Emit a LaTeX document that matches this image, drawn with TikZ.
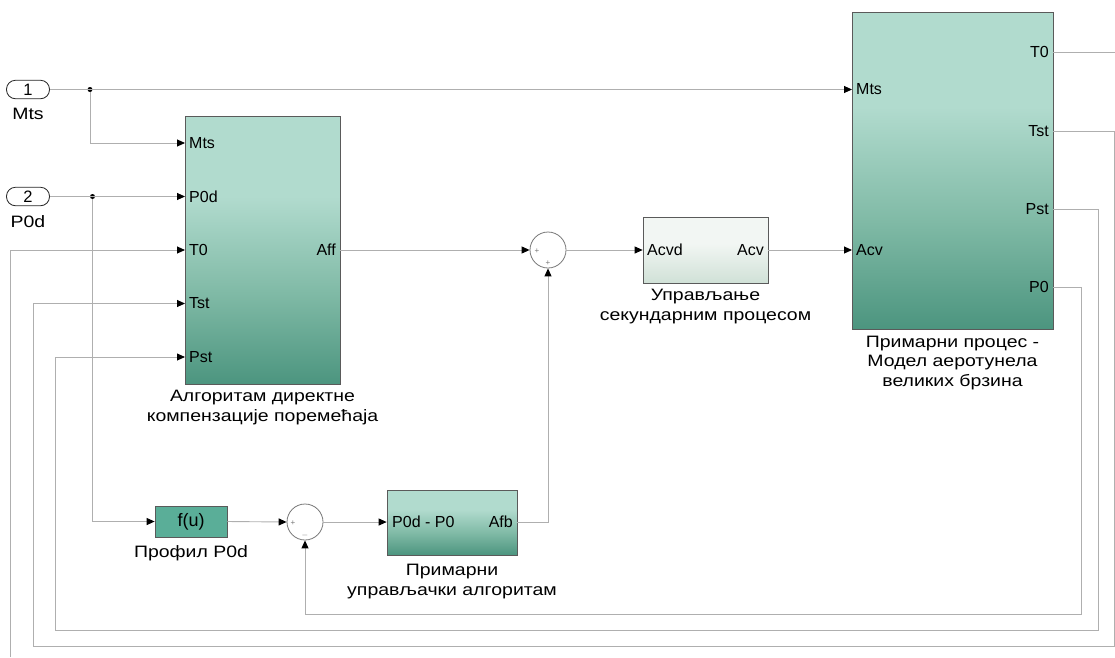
\documentclass[tikz,border=0pt]{standalone}
\usepackage{fontspec}
\setmainfont{Liberation Sans}
\newfontfamily\namefont[FakeStretch=1.18]{Liberation Sans}
\usetikzlibrary{arrows.meta,calc}

\definecolor{tealL}{RGB}{177,219,206}
\definecolor{tealM}{RGB}{128,186,166}
\definecolor{tealD}{RGB}{76,149,127}
\definecolor{greyL}{RGB}{242,246,243}
\definecolor{greyD}{RGB}{208,225,215}
\definecolor{fuFill}{RGB}{90,174,152}
\definecolor{wirecol}{RGB}{175,175,175}
\definecolor{framecol}{RGB}{90,90,90}
\definecolor{sumcol}{RGB}{120,120,120}

\pgfdeclareverticalshading{tealblock}{100bp}{color(0bp)=(tealD); color(25bp)=(tealD); color(42bp)=(tealM); color(60bp)=(tealL); color(100bp)=(tealL)}
\pgfdeclareverticalshading{greyblock}{100bp}{color(0bp)=(greyD); color(25bp)=(greyD); color(55bp)=(greyL); color(100bp)=(greyL)}

\begin{document}
\begin{tikzpicture}[x=1pt,y=-1pt,
  wire/.style={draw=wirecol, line width=0.9pt},
  arr/.style={wire, -{Triangle[length=8pt,width=7pt,color=black]}},
  blockbase/.style={draw=framecol, line width=0.7pt, inner sep=0pt},
  tealbox/.style={blockbase, shade, shading=tealblock},
  greybox/.style={blockbase, shade, shading=greyblock},
  portlbl/.style={font=\fontsize{16}{18}\selectfont, inner sep=0pt},
  caption/.style={font=\namefont\fontsize{16.5}{19.5}\selectfont, align=center, inner sep=0pt, anchor=north},
  sumnode/.style={circle, draw=sumcol, fill=white, minimum size=36pt, inner sep=0pt, line width=0.8pt},
  sign/.style={font=\fontsize{8}{8}\selectfont, text=sumcol, inner sep=0pt},
  inport/.style={draw=black!85, fill=white, rounded corners=9pt, minimum width=43pt, minimum height=18.5pt, inner sep=0pt, line width=0.8pt, font=\fontsize{16.5}{16.5}\selectfont},
  dot/.style={circle, fill=black, minimum size=5pt, inner sep=0pt}]
\useasboundingbox (0,0) rectangle (1115,657);

% ---- inports ----
\node[inport] (in1) at (28,89.5) {1};
\node[caption] (in1lbl) at (28,108) {Mts};
\node[inport] (in2) at (28,196.5) {2};
\node[caption] (in2lbl) at (28,215) {P0d};

% ---- feed-forward compensation block ----
\node[tealbox, minimum width=155pt, minimum height=268pt] (LB) at (262.5,250) {};
\node[portlbl, anchor=west] (LBl1) at (189,143) {Mts};
\node[portlbl, anchor=west] (LBl2) at (189,196.5) {P0d};
\node[portlbl, anchor=west] (LBl3) at (189,250) {T0};
\node[portlbl, anchor=west] (LBl4) at (189,303.5) {Tst};
\node[portlbl, anchor=west] (LBl5) at (189,357) {Pst};
\node[portlbl, anchor=east] (LBo1) at (336,250) {Aff};
\node[caption] (LBcap) at ($(LB.south)+(0,6)$) {Алгоритам директне\\компензације поремећаја};
\coordinate (LBin1) at (185,143);
\coordinate (LBin2) at (185,196.5);
\coordinate (LBin3) at (185,250);
\coordinate (LBin4) at (185,303.5);
\coordinate (LBin5) at (185,357);
\coordinate (LBout) at (340,250);

% ---- plant model ----
\node[tealbox, minimum width=201pt, minimum height=317pt] (RB) at (952.5,170.5) {};
\node[portlbl, anchor=west] (RBl1) at (856,89.5) {Mts};
\node[portlbl, anchor=west] (RBl2) at (856,250) {Acv};
\node[portlbl, anchor=east] (RBo1) at (1049,52) {T0};
\node[portlbl, anchor=east] (RBo2) at (1049,131) {Tst};
\node[portlbl, anchor=east] (RBo3) at (1049,209) {Pst};
\node[portlbl, anchor=east] (RBo4) at (1049,287) {P0};
\node[caption] (RBcap) at ($(RB.south)+(0,6.5)$) {Примарни процес -\\Модел аеротунела\\великих брзина};
\coordinate (RBin1) at (852,89.5);
\coordinate (RBin2) at (852,250);
\coordinate (RBT0) at (1053,52);
\coordinate (RBTst) at (1053,131);
\coordinate (RBPst) at (1053,209);
\coordinate (RBP0) at (1053,287);

% ---- secondary process control ----
\node[greybox, minimum width=125pt, minimum height=66pt] (SB) at (705.5,250) {};
\node[portlbl, anchor=west] (SBl) at (647,250) {Acvd};
\node[portlbl, anchor=east] (SBo) at (764,250) {Acv};
\node[caption] (SBcap) at ($(SB.south)+(0,6)$) {Управљање\\секундарним процесом};

% ---- setpoint profile ----
\node[blockbase, fill=fuFill, minimum width=72pt, minimum height=31pt, font=\fontsize{18}{18}\selectfont] (FU) at (191,521.5) {f(u)};
\node[caption] (FUcap) at ($(FU.south)+(0,7.5)$) {Профил P0d};

% ---- primary controller ----
\node[tealbox, minimum width=130pt, minimum height=65pt] (PC) at (452,522.5) {};
\node[portlbl, anchor=west] (PCl) at (392,522) {P0d - P0};
\node[portlbl, anchor=east] (PCo) at (513,522) {Afb};
\node[caption] (PCcap) at ($(PC.south)+(0,9)$) {Примарни\\управљачки алгоритам};

% ---- summing junctions ----
\node[sumnode] (S1) at (548,250) {};
\node[sign] at (537,251) {+};
\node[sign] at (548,263) {+};
\node[sumnode] (S2) at (305,522) {};
\node[sign] at (293,523) {+};
\node[sign] at (305,535) {$-$};

% ---- branch points ----
\node[dot] (d1) at (90,89.5) {};
\node[dot] (d2) at (92.5,196.5) {};

% ---- free wire ends at the picture border ----
\coordinate (T0right) at (1115,52);
\coordinate (T0left) at (10,657);

% ---- wires ----
\draw[arr] (in1.east) -- (RBin1);
\draw[arr] (d1) -- (d1 |- LBin1) -- (LBin1);
\draw[arr] (in2.east) -- (LBin2);
\draw[arr] (d2) -- (d2 |- FU.west) -- (FU.west);
\draw[arr] (FU.east) -- (S2.west);
\draw[arr] (S2.east) -- (PC.west |- S2.east);
\draw[arr] (PC.east |- S2.east) -- (548,522) -- (S1.south);
\draw[arr] (LBout) -- (S1.west);
\draw[arr] (S1.east) -- (SB.west);
\draw[arr] (SB.east) -- (RBin2);

\draw[wire] (RBT0) -- (T0right);
\draw[arr] (T0left) -- (10,250) -- (LBin3);
\draw[arr] (RBTst) -- (1114,131) -- (1114,646.5) -- (33,646.5) -- (33,303.5) -- (LBin4);
\draw[arr] (RBPst) -- (1098,209) -- (1098,630) -- (55,630) -- (55,357) -- (LBin5);
\draw[arr] (RBP0) -- (1081,287) -- (1081,614) -- (305,614) -- (S2.south);
\end{tikzpicture}
\end{document}
